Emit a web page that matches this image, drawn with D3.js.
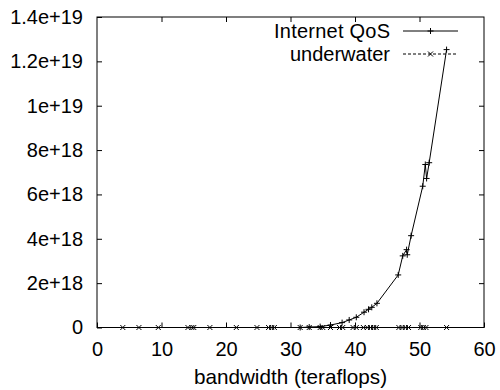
<!DOCTYPE html>
<html>
<head>
<meta charset="utf-8">
<script src="https://cdn.jsdelivr.net/npm/d3@7"></script>
<style>
  html, body { margin: 0; padding: 0; background: #fff; }
  svg { display: block; }
  text { font-family: "Liberation Sans", Arial, Helvetica, sans-serif; fill: #000; }
</style>
</head>
<body>
<svg id="chart" width="500" height="390"></svg>
<script>
// ---- data ----
const seriesNames = ["Internet QoS", "underwater"];

const qosX = [31.5, 32.9, 34.6, 36.2, 38.0, 39.1, 40.2, 41.4, 42.1, 42.6, 43.4,
              46.7, 47.4, 48.0, 48.1, 48.7, 50.5, 50.9, 51.1, 51.5, 54.2];
const qosY = [0.0e18, 0.02e18, 0.04e18, 0.11e18, 0.22e18, 0.34e18, 0.46e18, 0.69e18, 0.82e18, 0.91e18, 1.09e18,
              2.37e18, 3.23e18, 3.51e18, 3.28e18, 4.14e18, 6.37e18, 7.35e18, 6.72e18, 7.43e18, 12.53e18];

const uwX = [4.0, 6.5, 9.5, 14.1, 14.7, 15.0, 17.5, 21.6, 24.8, 26.6, 27.1, 27.5,
             31.5, 32.9, 34.6, 35.0, 36.2, 37.6, 38.1, 39.7, 40.2, 41.3, 41.9, 42.4,
             42.9, 43.3, 46.8, 47.3, 47.8, 48.3, 50.2, 50.6, 51.0, 54.2];
const uwY = [0, 0, 0, 0, 0, 0, 0, 0, 0, 0, 0, 0,
             0, 0, 0, 0, 0, 0, 0, 0, 0, 0, 0, 0,
             0, 0, 0, 0, 0, 0, 0, 0, 0, 0];

const xTicks = [0, 10, 20, 30, 40, 50, 60];
const yTicks = [0, 2e18, 4e18, 6e18, 8e18, 1e19, 1.2e19, 1.4e19];
const yTickLabels = ["0", "2e+18", "4e+18", "6e+18", "8e+18", "1e+19", "1.2e+19", "1.4e+19"];
const xTitle = "bandwidth (teraflops)";

// ---- layout ----
const L = 97, R = 484, T = 17, B = 327.5;
const svg = d3.select("#chart");
const x = d3.scaleLinear().domain([0, 60]).range([L, R]);
const y = d3.scaleLinear().domain([0, 1.4e19]).range([B, T]);
const fs = 20;
const fsBig = 20.7;
const fsLeg = 20;
const tick = 5;

// frame
svg.append("rect").attr("x", L).attr("y", T).attr("width", R - L).attr("height", B - T)
  .attr("fill", "none").attr("stroke", "#000").attr("stroke-width", 1);

function styleAxis(g) {
  g.select(".domain").remove();
  g.selectAll("line").attr("stroke", "#000").attr("stroke-width", 1);
  g.selectAll("text").attr("font-size", fs).attr("font-family", "Liberation Sans, Arial, sans-serif");
}

svg.append("g").attr("transform", `translate(0,${B})`)
  .call(d3.axisBottom(x).tickValues(xTicks).tickFormat(d3.format("d")).tickSizeInner(-tick).tickSizeOuter(0).tickPadding(14))
  .call(styleAxis);
svg.append("g").attr("transform", `translate(0,${T})`)
  .call(d3.axisTop(x).tickValues(xTicks.slice(1, -1)).tickFormat("").tickSizeInner(-tick).tickSizeOuter(0))
  .call(styleAxis);
svg.append("g").attr("transform", `translate(${L},0)`)
  .call(d3.axisLeft(y).tickValues(yTicks).tickFormat((d, i) => yTickLabels[i]).tickSizeInner(-tick).tickSizeOuter(0).tickPadding(14))
  .call(styleAxis);
svg.append("g").attr("transform", `translate(${R},0)`)
  .call(d3.axisRight(y).tickValues(yTicks.slice(1, -1)).tickFormat("").tickSizeInner(-tick).tickSizeOuter(0))
  .call(styleAxis);

// axis title
svg.append("text").attr("x", (L + R) / 2).attr("y", 384).attr("text-anchor", "middle")
  .attr("font-size", fsBig).text(xTitle);

// markers
function plus(g, cx, cy, s) {
  g.append("path").attr("d", `M${cx - s},${cy}H${cx + s}M${cx},${cy - s}V${cy + s}`)
    .attr("stroke", "#000").attr("stroke-width", 1).attr("fill", "none");
}
function cross(g, cx, cy, s) {
  g.append("path").attr("d", `M${cx - s},${cy - s}L${cx + s},${cy + s}M${cx - s},${cy + s}L${cx + s},${cy - s}`)
    .attr("stroke", "#000").attr("stroke-width", 1).attr("fill", "none");
}

const line = d3.line().x(d => x(d[0])).y(d => y(d[1]));
const qos = qosX.map((v, i) => [v, qosY[i]]);
const uw = uwX.map((v, i) => [v, uwY[i]]);

const gUw = svg.append("g");
gUw.append("path").attr("d", line(uw)).attr("fill", "none").attr("stroke", "#000")
  .attr("stroke-width", 1).attr("stroke-dasharray", "3,2");
uw.forEach(d => cross(gUw, x(d[0]), y(d[1]), 2.5));

const gQ = svg.append("g");
gQ.append("path").attr("d", line(qos)).attr("fill", "none").attr("stroke", "#000").attr("stroke-width", 1);
qos.forEach(d => plus(gQ, x(d[0]), y(d[1]), 3));

// legend
const legX2 = 390, sx1 = 403, sx2 = 458;
const legRows = [31, 54];
seriesNames.forEach((name, i) => {
  const ly = legRows[i];
  svg.append("text").attr("x", legX2).attr("y", ly).attr("dy", "0.35em").attr("text-anchor", "end")
    .attr("font-size", fsLeg).attr("textLength", i === 0 ? 116 : null)
    .attr("lengthAdjust", "spacing").text(name);
  const p = svg.append("path").attr("d", `M${sx1},${ly}H${sx2}`).attr("stroke", "#000")
    .attr("stroke-width", 1).attr("fill", "none");
  if (i === 1) p.attr("stroke-dasharray", "3,2");
  if (i === 0) plus(svg, (sx1 + sx2) / 2, ly, 3); else cross(svg, (sx1 + sx2) / 2, ly, 2.5);
});
</script>
</body>
</html>
